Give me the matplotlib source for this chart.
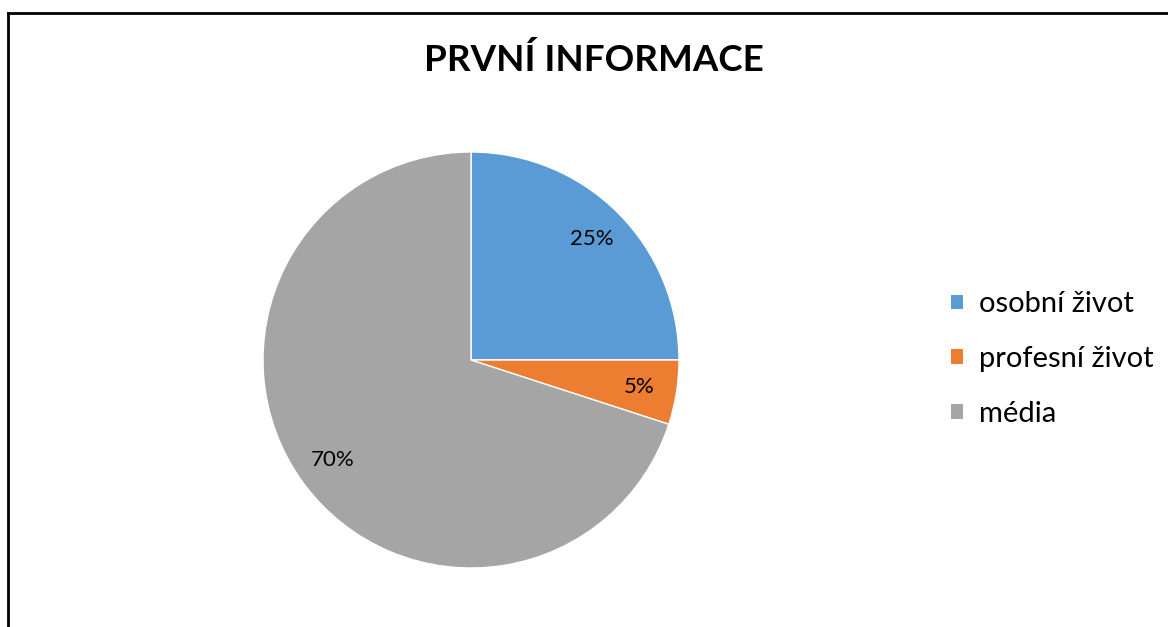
import matplotlib
matplotlib.use("Agg")
import matplotlib.pyplot as plt
from matplotlib.patches import Patch
from matplotlib.lines import Line2D

plt.rcParams["font.family"] = ["Lato", "DejaVu Sans"]

title = "PRVNÍ INFORMACE"
labels = ["osobní život", "profesní život", "média"]
values = [25, 5, 70]
colors = ["#5B9BD5", "#ED7D31", "#A5A5A5"]

W, H = 1168, 627
fig = plt.figure(figsize=(W / 100, H / 100), dpi=100)

# pie axes: centre (471, 360) px, radius 208 px
cx, cy, r = 471, 360, 208
ax = fig.add_axes([(cx - r) / W, (H - cy - r) / H, 2 * r / W, 2 * r / H])

wedges, _, autotexts = ax.pie(
    values,
    colors=colors,
    startangle=90,
    counterclock=False,
    autopct="%d%%",
    pctdistance=0.82,
    wedgeprops=dict(edgecolor="white", linewidth=1),
    textprops=dict(fontsize=16, color="#000000"),
)
ax.set_xlim(-1, 1)
ax.set_ylim(-1, 1)
ax.set_aspect("equal")

fig.text(594 / W, 1 - 60 / H, title, ha="center", va="center",
         fontsize=26.5, fontweight="bold")

handles = [Patch(facecolor=c, edgecolor="none") for c in colors]
fig.legend(
    handles,
    labels,
    loc="center left",
    bbox_to_anchor=(931 / W, 1 - 359 / H),
    frameon=False,
    fontsize=21,
    handlelength=0.4,
    handleheight=0.4,
    handletextpad=0.55,
    labelspacing=0.98,
    borderpad=0.2,
)

# chart border (only top and left visible in the crop)
fig.add_artist(Line2D([8 / W, 8 / W], [0, 1 - 13 / H], color="black",
                      linewidth=2, transform=fig.transFigure))
fig.add_artist(Line2D([8 / W, 1], [1 - 13 / H, 1 - 13 / H], color="black",
                      linewidth=2, transform=fig.transFigure))

fig.savefig("out.png", dpi=100)
